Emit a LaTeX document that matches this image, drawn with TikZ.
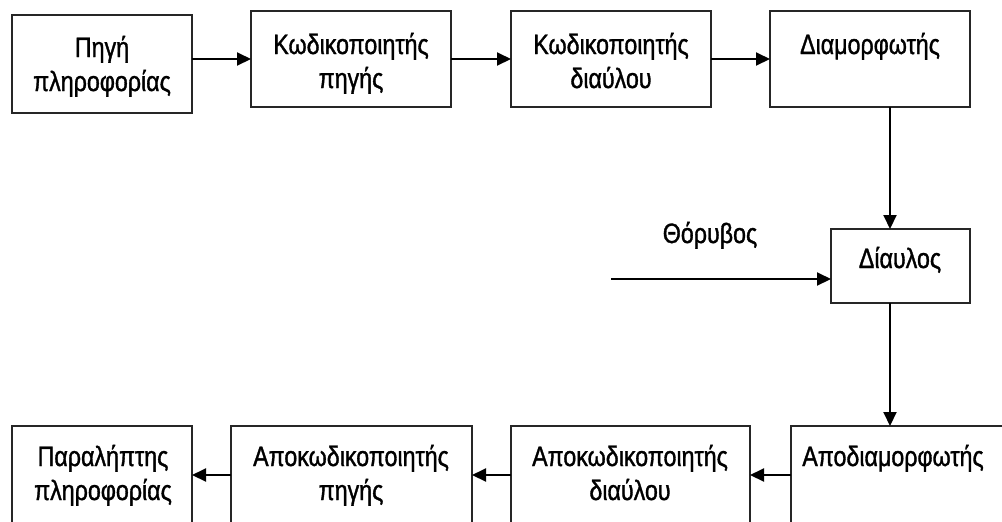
\documentclass[tikz,border=0pt]{standalone}
\usepackage{fontspec}
\setmainfont{Liberation Sans}[FakeStretch=0.83,FakeBold=1.2]
\usetikzlibrary{arrows.meta}

\begin{document}
\begin{tikzpicture}[x=0.5pt,y=-0.5pt,
  box/.style={draw=black!85, line width=0.7pt, inner sep=0pt, outer sep=0pt},
  lbl/.style={align=center, inner sep=0pt, anchor=base,
              font=\fontsize{14}{17}\selectfont},
  flow/.style={draw=black, line width=1pt,
               -{Triangle[length=7pt,width=6.5pt]}}
]
\useasboundingbox (0,0) rectangle (1002,521);
\clip (0,0) rectangle (1002,521);

% transmitter chain (top row)
\node[box, minimum width=90pt,  minimum height=49pt] (src)  at (102,64)  {};
\node[box, minimum width=100pt, minimum height=48pt] (senc) at (351,59)  {};
\node[box, minimum width=100pt, minimum height=48pt] (cenc) at (611,59)  {};
\node[box, minimum width=100pt, minimum height=48pt] (mod)  at (870,59)  {};

% two-line labels are anchored at the baseline of their last line
\node[lbl] (tsrc)  at (102,91) {Πηγή\\πληροφορίας};
\node[lbl] (tsenc) at (351,88) {Κωδικοποιητής\\πηγής};
\node[lbl] (tcenc) at (611,88) {Κωδικοποιητής\\διαύλου};
\node[lbl] (tmod)  at (870,54) {Διαμορφωτής};

% channel and noise
\node[box, minimum width=69.5pt, minimum height=37pt] (chan) at (900.5,266) {};
\node[lbl] (tchan)  at (900,268) {Δίαυλος};
\node[lbl] (tnoise) at (710,243) {Θόρυβος};
\coordinate (noise) at (611,279);

% receiver chain (bottom row)
\node[box, minimum width=90pt,  minimum height=57pt] (sink) at (102,483)   {};
\node[box, minimum width=120.5pt, minimum height=57pt] (sdec) at (351.5,483) {};
\node[box, minimum width=119.5pt, minimum height=57pt] (cdec) at (630.5,483) {};
\node[box, minimum width=125pt, minimum height=57pt] (demod) at (916,483)  {};

\node[lbl] (tsink)  at (103,500) {Παραλήπτης\\πληροφορίας};
\node[lbl] (tsdec)  at (351,500) {Αποκωδικοποιητής\\πηγής};
\node[lbl] (tcdec)  at (630,500) {Αποκωδικοποιητής\\διαύλου};
\node[lbl] (tdemod) at (893,466) {Αποδιαμορφωτής};

% connectors
\draw[flow] (src.east |- senc.west) -- (senc.west);
\draw[flow] (senc) -- (cenc);
\draw[flow] (cenc) -- (mod);
\draw[flow] (mod.south -| 890,0) -- (chan.north -| 890,0);
\draw[flow] (noise) -- (noise -| chan.west);
\draw[flow] (chan.south -| 890,0) -- (demod.north -| 890,0);
\draw[flow] (demod.west |- 0,475) -- (cdec.east |- 0,475);
\draw[flow] (cdec.west |- 0,475) -- (sdec.east |- 0,475);
\draw[flow] (sdec.west |- 0,475) -- (sink.east |- 0,475);
\end{tikzpicture}
\end{document}
